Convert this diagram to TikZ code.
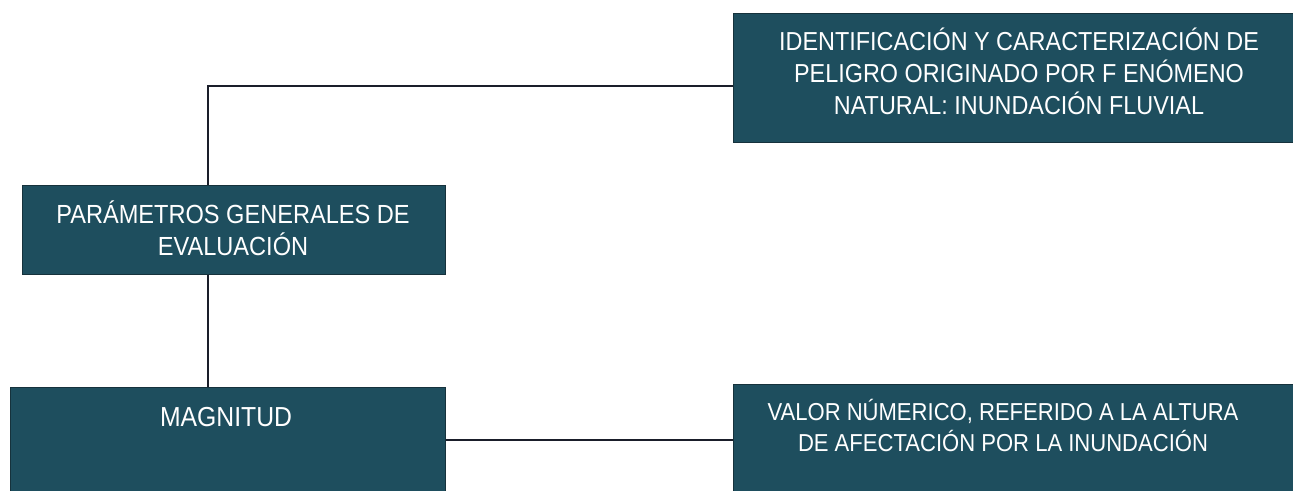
\documentclass[tikz,border=0pt]{standalone}
\usepackage{fontspec}
\newfontfamily\boxfont[FakeStretch=0.9]{Liberation Sans}
\definecolor{boxteal}{HTML}{1E4E5E}
\definecolor{boxedge}{HTML}{16323C}
\definecolor{linecol}{HTML}{1A1E2A}
\begin{document}
\begin{tikzpicture}[x=1pt,y=-1pt,
  tealbox/.style={draw=boxedge,line width=0.8pt,fill=boxteal,inner sep=0pt,minimum width=#1},
  boxtext/.style={text=white,inner sep=0pt,align=center,font=\boxfont},
  conn/.style={draw=linecol,line width=1.6pt}]
\useasboundingbox (0,0) rectangle (1293,490);
% boxes
\node[tealbox=562pt,minimum height=129pt,anchor=north west] (A) at (733,13) {};
\node[tealbox=423pt,minimum height=89pt,anchor=north west] (B) at (22,185) {};
\node[tealbox=435pt,minimum height=110pt,anchor=north west] (C) at (10,387) {};
\node[tealbox=562pt,minimum height=110pt,anchor=north west] (D) at (733,384) {};
% texts
\node[boxtext,font=\boxfont\fontsize{26}{32}\selectfont] (tA) at (1019,71) {IDENTIFICACIÓN Y CARACTERIZACIÓN DE\\PELIGRO ORIGINADO POR F ENÓMENO\\NATURAL: INUNDACIÓN FLUVIAL};
\node[boxtext,font=\boxfont\fontsize{26.2}{32}\selectfont] (tB) at (233,228) {PARÁMETROS GENERALES DE\\EVALUACIÓN};
\node[boxtext,font=\boxfont\fontsize{27.5}{34}\selectfont] (tC) at (226,417) {MAGNITUD};
\node[boxtext,font=\boxfont\fontsize{24.5}{31}\selectfont] (tD) at (1003,425) {VALOR NÚMERICO, REFERIDO A LA ALTURA\\DE AFECTACIÓN POR LA INUNDACIÓN};
% connectors
\coordinate (j1) at (208,86);
\coordinate (j2) at (0,440);
\draw[conn] (B.north -| j1) |- (A.west |- j1);
\draw[conn] (B.south -| j1) -- (C.north -| j1);
\draw[conn] (C.east |- j2) -- (D.west |- j2);
\end{tikzpicture}
\end{document}
